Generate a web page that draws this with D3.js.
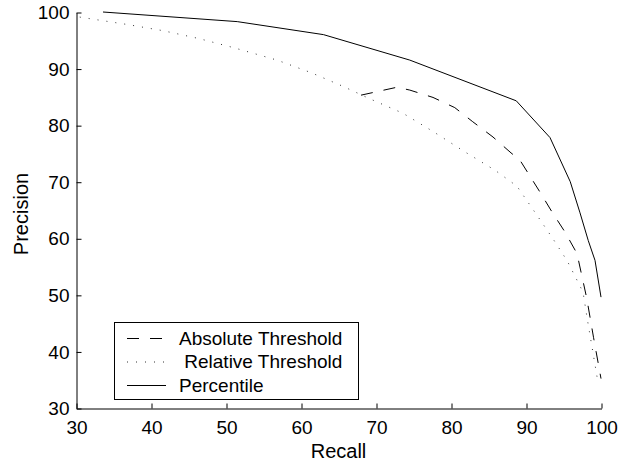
<!DOCTYPE html>
<html>
<head>
<meta charset="utf-8">
<script src="https://cdn.jsdelivr.net/npm/d3@7"></script>
<style>
  html, body { margin: 0; padding: 0; background: #fff; }
  svg { display: block; font-family: "Liberation Sans", Arial, Helvetica, sans-serif; }
  .legend text { white-space: pre; }
</style>
</head>
<body>
<svg id="chart" width="620" height="466"></svg>
<script>
// Precision/recall curves for three thresholding strategies
const seriesNames = ["Absolute Threshold", " Relative Threshold", "Percentile"];

const absoluteRecall    = [68.0, 72.8, 74.5, 77.6, 80.5, 82.9, 85.6, 88.0, 89.2, 91.8, 93.4, 95.2, 96.8, 98.1, 99.0, 100];
const absolutePrecision = [85.3, 86.7, 86.2, 84.9, 83.1, 80.6, 77.9, 75.1, 73.8, 68.3, 64.8, 61.1, 57.3, 49.4, 42.5, 35.2];

const relativeRecall    = [30.5, 36.8, 41.6, 46.4, 51.0, 56.8, 61.3, 65.7, 69.1, 73.6, 77.7, 81.7, 85.9, 88.8, 91.5, 93.6, 95.5, 97.6, 98.2, 98.8, 99.6];
const relativePrecision = [99.1, 97.8, 96.7, 95.3, 93.7, 91.5, 89.3, 86.8, 84.7, 82.1, 78.8, 75.4, 72.0, 69.2, 64.0, 59.9, 56.0, 50.5, 45.5, 40.8, 34.5];

const percentileRecall    = [33.6, 51.5, 63.0, 74.5, 88.7, 93.2, 95.9, 97.2, 98.3, 99.2, 100];
const percentilePrecision = [100, 98.3, 96.0, 91.5, 84.3, 77.8, 70.0, 64.5, 59.6, 56.1, 49.6];

const xTicks = [30, 40, 50, 60, 70, 80, 90, 100];
const yTicks = [30, 40, 50, 60, 70, 80, 90, 100];

const svg = d3.select("#chart");
const x = d3.scaleLinear().domain([30, 100]).range([76, 601]);
const y = d3.scaleLinear().domain([30, 100]).range([408, 12]);

const tickFont = 19;
const titleFont = 20;
const legendFont = 19;

// Axes (ticks point inward)
const gx = svg.append("g")
  .attr("transform", "translate(0.5,408.5)")
  .call(d3.axisBottom(x).tickValues(xTicks).tickSizeInner(-5).tickSizeOuter(0).tickPadding(12).tickFormat(d3.format("d")));
const gy = svg.append("g")
  .attr("transform", "translate(76.5,0.5)")
  .call(d3.axisLeft(y).tickValues(yTicks).tickSizeInner(-5).tickSizeOuter(0).tickPadding(7).tickFormat(d3.format("d")));

[gx, gy].forEach(g => {
  g.selectAll("path.domain").attr("stroke", "#000").attr("stroke-width", 1);
  g.selectAll(".tick line").attr("stroke", "#000");
  g.selectAll(".tick text").attr("fill", "#000").attr("font-size", tickFont)
    .attr("font-family", "Liberation Sans, Arial, sans-serif");
});

// Axis titles
svg.append("text")
  .attr("x", x(65)).attr("y", 458)
  .attr("text-anchor", "middle").attr("font-size", titleFont)
  .text("Recall");
svg.append("text")
  .attr("transform", "translate(28," + 214 + ") rotate(-90)")
  .attr("text-anchor", "middle").attr("font-size", titleFont)
  .text("Precision");

// Curves
const line = d3.line().x(d => x(d[0])).y(d => y(d[1]));
const styles = [
  { dash: "12,11", color: "#000" },
  { dash: "1,8",   color: "#333" },
  { dash: null,    color: "#000" }
];
const series = [
  d3.zip(absoluteRecall, absolutePrecision),
  d3.zip(relativeRecall, relativePrecision),
  d3.zip(percentileRecall, percentilePrecision)
];

series.forEach((pts, i) => {
  svg.append("path")
    .datum(pts)
    .attr("d", line)
    .attr("fill", "none")
    .attr("stroke", styles[i].color)
    .attr("stroke-width", 1)
    .attr("stroke-dasharray", styles[i].dash);
});

// Legend
const lg = svg.append("g").attr("class", "legend");
lg.append("rect")
  .attr("x", 114.5).attr("y", 322.5).attr("width", 244).attr("height", 77)
  .attr("fill", "#fff").attr("stroke", "#000").attr("stroke-width", 1);
const rowY = [338, 361.5, 385];
seriesNames.forEach((name, i) => {
  lg.append("line")
    .attr("x1", 127).attr("x2", 166)
    .attr("y1", rowY[i] + 0.5).attr("y2", rowY[i] + 0.5)
    .attr("stroke", styles[i].color).attr("stroke-width", 1)
    .attr("stroke-dasharray", styles[i].dash);
  lg.append("text")
    .attr("x", 179).attr("y", rowY[i])
    .attr("dy", "0.35em")
    .attr("font-size", legendFont)
    .text(name);
});
</script>
</body>
</html>
